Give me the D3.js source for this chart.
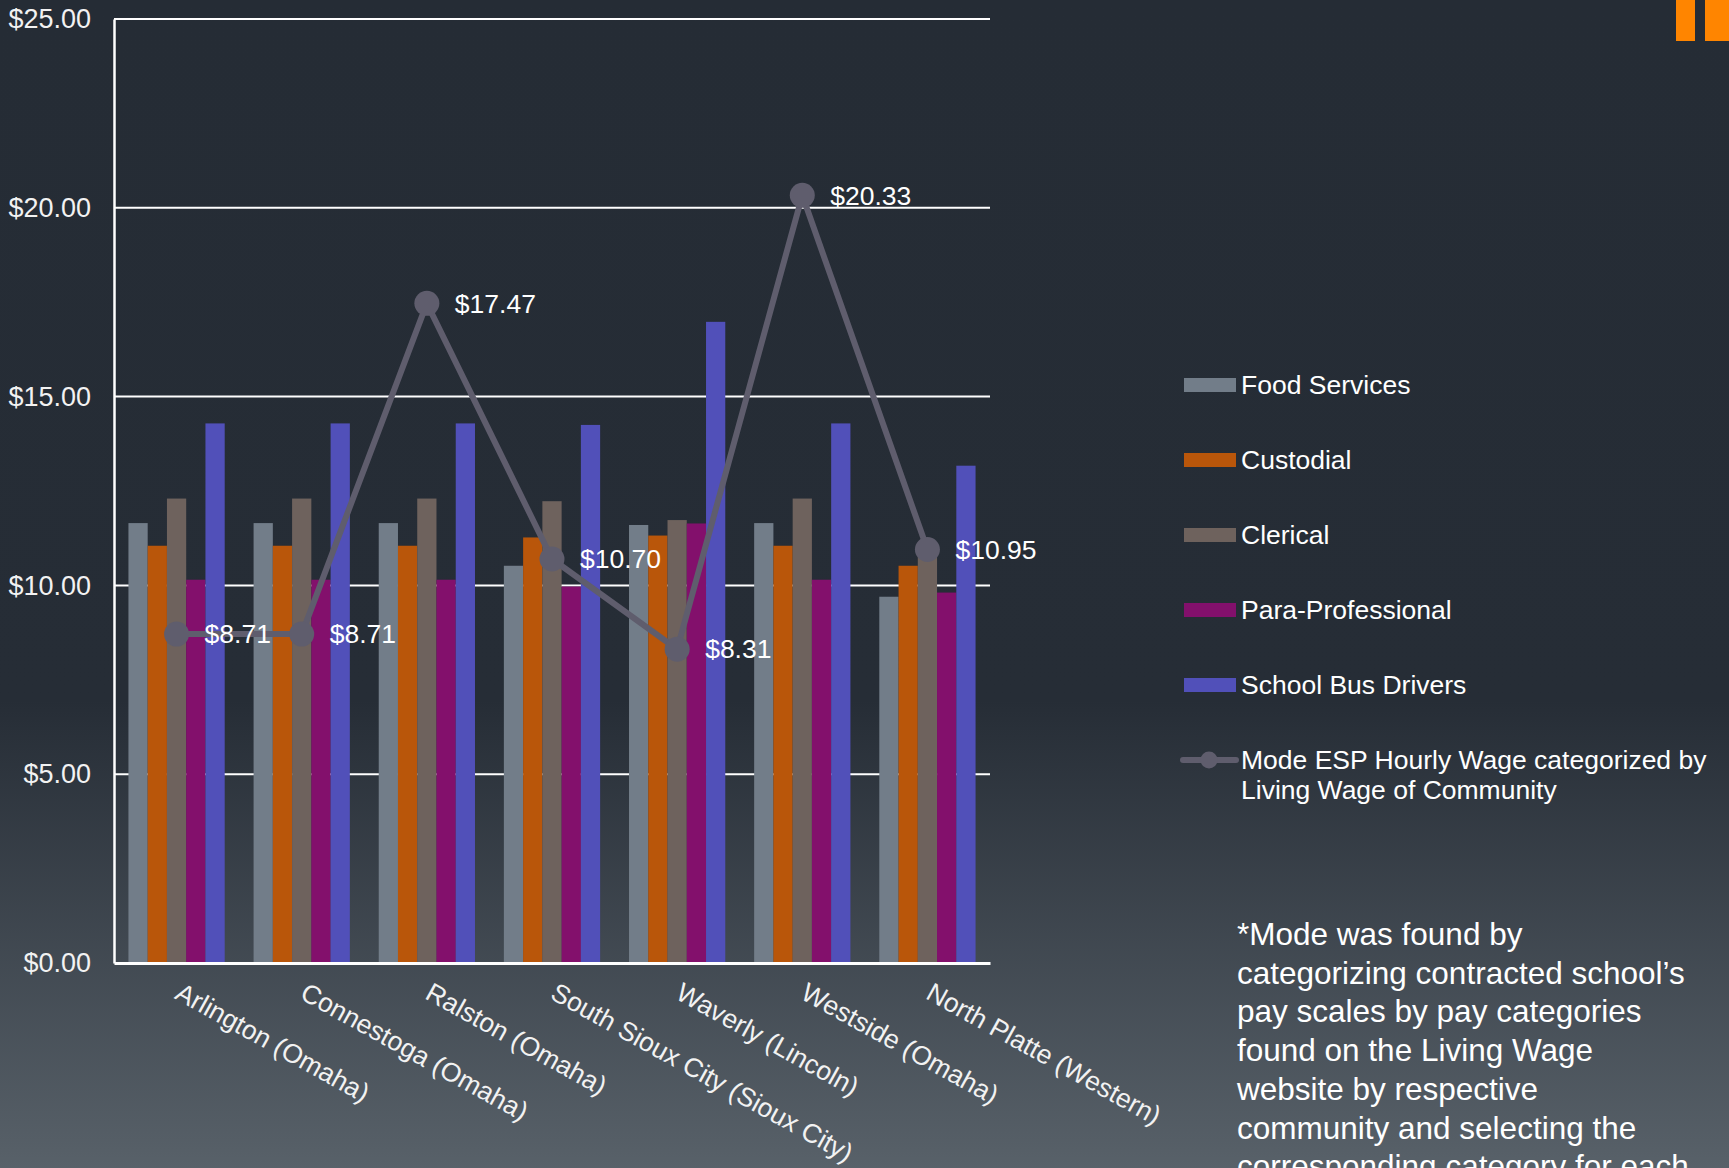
<!DOCTYPE html>
<html>
<head>
<meta charset="utf-8">
<script src="https://cdn.jsdelivr.net/npm/d3@7"></script>
<style>
html,body{margin:0;padding:0;width:1729px;height:1168px;overflow:hidden;background:#252c35;}
svg{display:block;font-family:"Liberation Sans",Arial,sans-serif;}
</style>
</head>
<body>
<svg id="chart" width="1729" height="1168"></svg>
<script>
const categories = ["Arlington (Omaha)","Connestoga (Omaha)","Ralston (Omaha)","South Sioux City (Sioux City)","Waverly (Lincoln)","Westside (Omaha)","North Platte (Western)"];
const seriesNames = ["Food Services","Custodial","Clerical","Para-Professional","School Bus Drivers"];
const foodServices = [11.65,11.65,11.65,10.52,11.60,11.65,9.70];
const custodial    = [11.05,11.05,11.05,11.27,11.32,11.05,10.52];
const clerical     = [12.30,12.30,12.30,12.23,11.73,12.30,10.90];
const paraPro      = [10.15,10.15,10.15,9.97,11.64,10.15,9.81];
const busDrivers   = [14.29,14.29,14.29,14.25,16.98,14.29,13.17];
const modeWage     = [8.71,8.71,17.47,10.70,8.31,20.33,10.95];
const lineName = ["Mode ESP Hourly Wage categorized by","Living Wage of Community"];
const yTicks = [0,5,10,15,20,25];
const footnote = ["*Mode was found by","categorizing contracted school\u2019s","pay scales by pay categories","found on the Living Wage","website by respective","community and selecting the","corresponding category for each"];

const colors = ["#727d89","#b9560a","#6e625d","#83106c","#5150b9"];
const lineColor = "#5f5d6d";
const seriesValues = [foodServices,custodial,clerical,paraPro,busDrivers];

(function(){
const svg = d3.select("#chart");
const W = 1729, H = 1168;
const defs = svg.append("defs");
const grad = defs.append("linearGradient").attr("id","bg").attr("x1",0).attr("y1",0).attr("x2",0).attr("y2",1);
grad.append("stop").attr("offset","0").attr("stop-color","#252c35");
grad.append("stop").attr("offset","0.6").attr("stop-color","#262d36");
grad.append("stop").attr("offset","1").attr("stop-color","#586169");
svg.append("rect").attr("width",W).attr("height",H).attr("fill","url(#bg)");

// decorative orange bars
svg.append("rect").attr("x",1676).attr("y",0).attr("width",19).attr("height",41).attr("fill","#ff8500");
svg.append("rect").attr("x",1705).attr("y",0).attr("width",24).attr("height",41).attr("fill","#ff8500");

const pLeft = 114, pRight = 990, pTop = 19, pBottom = 963;
const y = d3.scaleLinear().domain([0,25]).range([pBottom, pTop]);
const x0 = d3.scaleBand().domain(categories).range([pLeft,pRight]).padding(0);
const bw = x0.bandwidth();
const gap = bw * 1.5/6.5;
const x1 = d3.scaleBand().domain(seriesNames).range([gap/2, bw-gap/2]).padding(0);

// gridlines
svg.append("g").selectAll("line").data(yTicks.filter(d=>d>0)).join("line")
  .attr("x1",pLeft).attr("x2",pRight).attr("y1",d=>y(d)).attr("y2",d=>y(d))
  .attr("stroke","#ffffff").attr("stroke-width",2);

// bars
const g = svg.append("g");
seriesNames.forEach((s,si)=>{
  g.append("g").selectAll("rect").data(categories).join("rect")
    .attr("x",(c)=>x0(c)+x1(s))
    .attr("y",(c,i)=>y(seriesValues[si][i]))
    .attr("width",x1.bandwidth())
    .attr("height",(c,i)=>pBottom-y(seriesValues[si][i]))
    .attr("fill",colors[si]);
});

// axes
const yAxis = d3.axisLeft(y).tickValues(yTicks).tickSize(0).tickPadding(23).tickFormat(d=>"$"+d3.format(".2f")(d));
const ya = svg.append("g").attr("transform",`translate(${pLeft},0)`).call(yAxis);
ya.select(".domain").attr("stroke","#ffffff").attr("stroke-width",2.5);
ya.selectAll("text").attr("fill","#f2f2f2").attr("font-size",27).attr("font-family","Liberation Sans, Arial, sans-serif");

const xAxis = d3.axisBottom(x0).tickSize(0).tickPadding(0);
const xa = svg.append("g").attr("transform",`translate(0,${pBottom})`).call(xAxis);
xa.select(".domain").attr("stroke","#ffffff").attr("stroke-width",3);
xa.selectAll("text").attr("fill","#f2f2f2").attr("font-size",26.5).attr("font-family","Liberation Sans, Arial, sans-serif")
  .attr("text-anchor","start").attr("dy",null).attr("y",0)
  .attr("transform","translate(-3,35) rotate(29)");

// line
const cx = (c)=>x0(c)+bw/2;
const line = d3.line().x((d,i)=>cx(categories[i])).y(d=>y(d));
svg.append("path").datum(modeWage).attr("d",line).attr("fill","none")
  .attr("stroke",lineColor).attr("stroke-width",6).attr("stroke-linejoin","round");
svg.append("g").selectAll("circle").data(modeWage).join("circle")
  .attr("cx",(d,i)=>cx(categories[i])).attr("cy",d=>y(d)).attr("r",12.5).attr("fill",lineColor);
svg.append("g").selectAll("text").data(modeWage).join("text")
  .attr("x",(d,i)=>cx(categories[i])+28).attr("y",d=>y(d)).attr("dy","0.35em")
  .attr("fill","#ffffff").attr("font-size",26.5).text(d=>"$"+d3.format(".2f")(d));

// legend
const lg = svg.append("g");
seriesNames.forEach((s,i)=>{
  const yy = 385 + i*75;
  lg.append("rect").attr("x",1184).attr("y",yy-7).attr("width",52).attr("height",14).attr("fill",colors[i]);
  lg.append("text").attr("x",1241).attr("y",yy).attr("dy","0.35em").attr("fill","#ffffff").attr("font-size",26.5).text(s);
});
const ly = 385 + 5*75;
lg.append("line").attr("x1",1183).attr("x2",1236).attr("y1",ly).attr("y2",ly).attr("stroke",lineColor).attr("stroke-width",6).attr("stroke-linecap","round");
lg.append("circle").attr("cx",1209).attr("cy",ly).attr("r",8.5).attr("fill",lineColor);
lineName.forEach((t,i)=>{
  lg.append("text").attr("x",1241).attr("y",ly+i*30).attr("dy","0.35em").attr("fill","#ffffff").attr("font-size",26.5).text(t);
});

// footnote
const fn = svg.append("text").attr("x",1237).attr("y",945).attr("fill","#ffffff").attr("font-size",31.5);
footnote.forEach((t,i)=>{
  fn.append("tspan").attr("x",1237).attr("y",945+i*38.7).text(t);
});
})();
</script>
</body>
</html>
